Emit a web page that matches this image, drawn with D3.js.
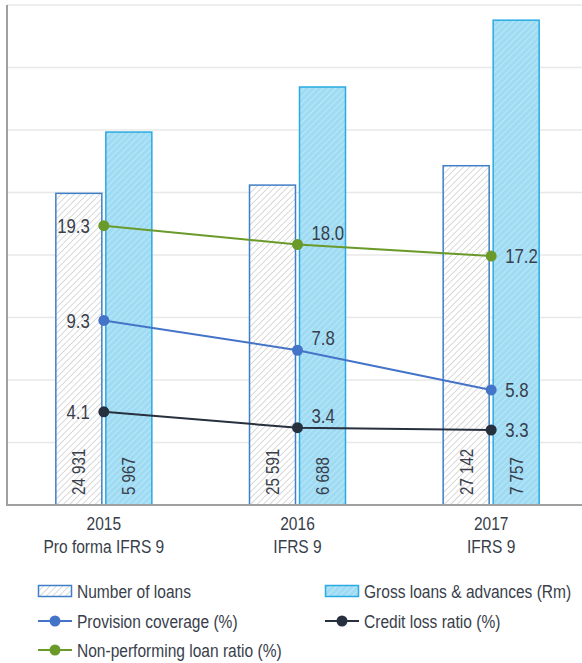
<!DOCTYPE html>
<html>
<head>
<meta charset="utf-8">
<script src="https://cdn.jsdelivr.net/npm/d3@7"></script>
<style>
  body { margin: 0; background: #fff; }
  svg text { font-family: "Liberation Sans", Arial, sans-serif; fill: #383e4b; }
</style>
</head>
<body>
<div id="chart"></div>
<script>
// Chart data
const years = ["2015", "2016", "2017"];
const yearNotes = ["Pro forma IFRS 9", "IFRS 9", "IFRS 9"];
const numberOfLoans = [24931, 25591, 27142];
const grossLoans = [5967, 6688, 7757];
const provisionCoverage = [9.3, 7.8, 5.8];
const creditLossRatio = [4.1, 3.4, 3.3];
const nplRatio = [19.3, 18.0, 17.2];

const width = 582, height = 663;
const margin = { top: 5, left: 7, bottom: 158 };
const plotBottom = height - margin.bottom;
const plotRight = 588;
const narrow = 0.84; // the original uses a narrow face, squeeze the sans to match

const svg = d3.select("#chart")
  .append("svg")
    .attr("width", width)
    .attr("height", height);

// put a narrow text at (x, y), optionally rotated
function addText(parent, x, y, str, size, anchor, rotate) {
  const g = parent.append("g")
      .attr("transform", "translate(" + x + "," + y + ")" + (rotate ? " rotate(" + rotate + ")" : ""));
  return g.append("text")
      .attr("transform", "scale(" + narrow + ",1)")
      .attr("text-anchor", anchor || "start")
      .attr("dy", "0.36em")
      .style("font-size", size + "px")
      .text(str);
}

// Hatch patterns
const defs = svg.append("defs");
const hatchGrey = defs.append("pattern")
    .attr("id", "hatch-grey")
    .attr("patternUnits", "userSpaceOnUse")
    .attr("width", 4.5).attr("height", 4.5)
    .attr("patternTransform", "rotate(45)");
hatchGrey.append("rect").attr("width", 4.5).attr("height", 4.5).attr("fill", "#fff");
hatchGrey.append("line").attr("x1", 0).attr("y1", 0).attr("x2", 0).attr("y2", 4.5)
    .attr("stroke", "#cdcdcd").attr("stroke-width", 1.5);

const hatchBlue = defs.append("pattern")
    .attr("id", "hatch-blue")
    .attr("patternUnits", "userSpaceOnUse")
    .attr("width", 4.5).attr("height", 4.5)
    .attr("patternTransform", "rotate(45)");
hatchBlue.append("rect").attr("width", 4.5).attr("height", 4.5).attr("fill", "#9fdbf3");
hatchBlue.append("line").attr("x1", 0).attr("y1", 0).attr("x2", 0).attr("y2", 4.5)
    .attr("stroke", "#c3ebfa").attr("stroke-width", 1.5);

// Scales
const x = d3.scaleBand()
  .domain(years)
  .range([margin.left, plotRight]);

const barW = 46, barGap = 4;
const subX = { count: x.bandwidth() / 2 - barGap / 2 - barW, gross: x.bandwidth() / 2 + barGap / 2 };

const yCount = d3.scaleLinear().domain([0, 40000]).range([plotBottom, margin.top]);
const yGross = d3.scaleLinear().domain([0, 8000]).range([plotBottom, margin.top]);
const yProv = d3.scaleLinear().domain([0, 25.2]).range([plotBottom, margin.top]);
const yCredit = d3.scaleLinear().domain([0, 22]).range([plotBottom, margin.top]);
const yNpl = d3.scaleLinear().domain([0, 34.55]).range([plotBottom, margin.top]);

// Gridlines
svg.append("g")
  .selectAll("line")
  .data(yCount.ticks(8))
  .enter()
  .append("line")
    .attr("x1", margin.left).attr("x2", width)
    .attr("y1", d => yCount(d)).attr("y2", d => yCount(d))
    .attr("stroke", "#e8e8e8")
    .attr("stroke-width", 1.5);

// Bars
const groups = svg.append("g")
  .selectAll("g")
  .data(years)
  .enter()
  .append("g")
    .attr("transform", d => "translate(" + x(d) + ",0)");

groups.append("rect")
    .attr("x", subX.count)
    .attr("width", barW)
    .attr("y", (d, i) => yCount(numberOfLoans[i]))
    .attr("height", (d, i) => plotBottom - yCount(numberOfLoans[i]))
    .attr("fill", "url(#hatch-grey)")
    .attr("stroke", "#3f7fc6")
    .attr("stroke-width", 1.5);

groups.append("rect")
    .attr("x", subX.gross)
    .attr("width", barW)
    .attr("y", (d, i) => yGross(grossLoans[i]))
    .attr("height", (d, i) => plotBottom - yGross(grossLoans[i]))
    .attr("fill", "url(#hatch-blue)")
    .attr("stroke", "#2aaae2")
    .attr("stroke-width", 1.5);

const fmt = d3.formatLocale({ thousands: " ", grouping: [3], decimal: ".", currency: ["", ""] }).format(",d");

// Rotated bar labels
groups.each(function(d, i) {
  const g = d3.select(this);
  addText(g, subX.count + barW / 2, plotBottom - 10, fmt(numberOfLoans[i]), 18, "start", -90);
  addText(g, subX.gross + barW / 2, plotBottom - 10, fmt(grossLoans[i]), 18, "start", -90);
});

// Axes lines
svg.append("line")
    .attr("x1", margin.left).attr("x2", margin.left)
    .attr("y1", margin.top).attr("y2", plotBottom)
    .attr("stroke", "#a0a0a0").attr("stroke-width", 2);
svg.append("line")
    .attr("x1", margin.left - 1).attr("x2", width)
    .attr("y1", plotBottom).attr("y2", plotBottom)
    .attr("stroke", "#a0a0a0").attr("stroke-width", 2);

// X labels
const cx = d => x(d) + x.bandwidth() / 2;
const xLabels = svg.append("g");
years.forEach((yr, i) => {
  addText(xLabels, cx(yr), plotBottom + 18, yr, 18.5, "middle");
  addText(xLabels, cx(yr), plotBottom + 41, yearNotes[i], 18.5, "middle");
});

// Lines
const lineSeries = [
  { values: nplRatio, scale: yNpl, color: "#6a9a2a", label: "Non-performing loan ratio (%)" },
  { values: provisionCoverage, scale: yProv, color: "#4474c8", label: "Provision coverage (%)" },
  { values: creditLossRatio, scale: yCredit, color: "#27303f", label: "Credit loss ratio (%)" }
];

lineSeries.forEach(s => {
  const line = d3.line()
    .x((d, i) => cx(years[i]))
    .y(d => s.scale(d));
  svg.append("path")
      .datum(s.values)
      .attr("d", line)
      .attr("fill", "none")
      .attr("stroke", s.color)
      .attr("stroke-width", 2);
  svg.append("g")
    .selectAll("circle")
    .data(s.values)
    .enter()
    .append("circle")
      .attr("cx", (d, i) => cx(years[i]))
      .attr("cy", d => s.scale(d))
      .attr("r", 5.5)
      .attr("fill", s.color);
  // value labels: left for first point, above-right for middle, right for last
  const lbl = svg.append("g");
  s.values.forEach((v, i) => {
    addText(lbl,
      cx(years[i]) + (i === 0 ? -14 : 14),
      s.scale(v) + (i === 1 ? -12 : 0),
      v.toFixed(1), 20, i === 0 ? "end" : "start");
  });
});

// Legend
const legend = svg.append("g");
const legendItems = [
  { type: "rect", fill: "url(#hatch-grey)", stroke: "#3f7fc6", label: "Number of loans", x: 38, y: 591 },
  { type: "rect", fill: "url(#hatch-blue)", stroke: "#2aaae2", label: "Gross loans & advances (Rm)", x: 325, y: 591 },
  { type: "line", color: lineSeries[1].color, label: lineSeries[1].label, x: 38, y: 621 },
  { type: "line", color: lineSeries[2].color, label: lineSeries[2].label, x: 325, y: 621 },
  { type: "line", color: lineSeries[0].color, label: lineSeries[0].label, x: 38, y: 650 }
];

legendItems.forEach(item => {
  const g = legend.append("g").attr("transform", "translate(" + item.x + "," + item.y + ")");
  if (item.type === "rect") {
    g.append("rect")
        .attr("x", 0.5).attr("y", -5.5)
        .attr("width", 33).attr("height", 11)
        .attr("fill", item.fill)
        .attr("stroke", item.stroke)
        .attr("stroke-width", 1.5);
  } else {
    g.append("line")
        .attr("x1", 0).attr("x2", 34)
        .attr("y1", 0).attr("y2", 0)
        .attr("stroke", item.color).attr("stroke-width", 2);
    g.append("circle")
        .attr("cx", 17).attr("cy", 0).attr("r", 5.5)
        .attr("fill", item.color);
  }
  addText(g, 39, 0, item.label, 18.5, "start");
});
</script>
</body>
</html>
